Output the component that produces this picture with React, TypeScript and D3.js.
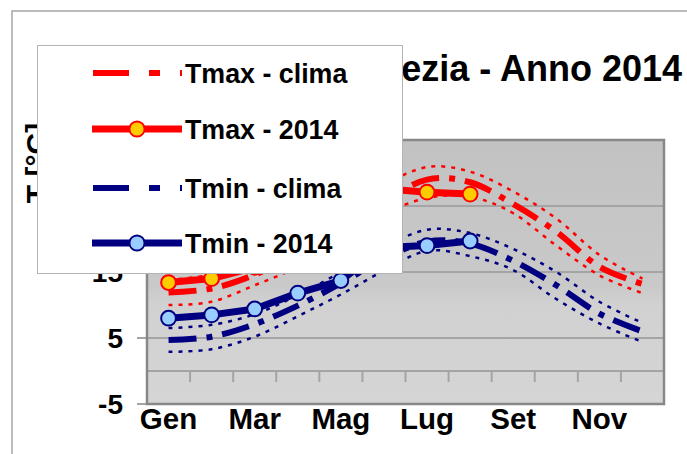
import * as d3 from "d3";

const months = ["Gen", "Feb", "Mar", "Apr", "Mag", "Giu", "Lug", "Ago", "Set", "Ott", "Nov", "Dic"];
const monthLabels = ["Gen", "Mar", "Mag", "Lug", "Set", "Nov"];
const yTicks = [-5, 5, 15, 25, 35];

const tmaxClima = [11.9, 12.5, 14.6, 17.8, 22.0, 25.8, 29.0, 28.6, 25.3, 21.1, 15.8, 13.2];
const tmaxClimaUp = [13.8, 14.6, 16.6, 20.0, 24.3, 28.2, 30.9, 30.2, 27.2, 23.1, 17.6, 14.0];
const tmaxClimaLow = [10.0, 10.5, 13.0, 15.8, 19.8, 23.8, 26.2, 26.4, 23.9, 19.0, 14.5, 11.8];
const tmax2014 = [13.4, 14.0, 15.7, 19.5, 22.5, 27.6, 27.1, 26.8];

const tminClima = [4.7, 5.2, 7.1, 9.9, 13.3, 17.0, 19.6, 19.3, 16.7, 13.0, 8.7, 6.0];
const tminClimaUp = [6.5, 7.0, 8.6, 11.5, 15.0, 18.8, 21.4, 20.9, 18.5, 15.0, 10.5, 7.3];
const tminClimaLow = [2.9, 3.3, 5.2, 8.3, 11.6, 15.2, 18.2, 17.4, 15.3, 10.9, 7.2, 4.4];
const tmin2014 = [8.0, 8.5, 9.4, 11.8, 13.7, 18.7, 19.0, 19.7];

const RED = "#ff0000";
const NAVY = "#000080";
const FONT = "'Liberation Sans', Arial, sans-serif";

export default function App() {
  const width = 687;
  const height = 454;
  const plot = { left: 147, right: 664, top: 140, bottom: 404 };

  const x = d3.scaleBand<string>().domain(months).range([plot.left, plot.right]).padding(0);
  const cx = (i: number) => (x(months[i]) ?? 0) + x.bandwidth() / 2;
  const y = d3.scaleLinear().domain([-5, 35]).range([plot.bottom, plot.top]);

  const smooth = d3
    .line<number>()
    .x((_, i) => cx(i))
    .y((d) => y(d))
    .curve(d3.curveCardinal.tension(0));
  const straight = d3
    .line<number>()
    .x((_, i) => cx(i))
    .y((d) => y(d));

  const bands = [
    { data: tmaxClimaUp, color: RED },
    { data: tmaxClimaLow, color: RED },
    { data: tminClimaUp, color: NAVY },
    { data: tminClimaLow, color: NAVY },
  ];

  const legendRows = [
    { label: "Tmax - clima", color: RED, dashed: true, fill: "" },
    { label: "Tmax - 2014", color: RED, dashed: false, fill: "#ffcc00" },
    { label: "Tmin - clima", color: NAVY, dashed: true, fill: "" },
    { label: "Tmin - 2014", color: NAVY, dashed: false, fill: "#99ccff" },
  ];
  const legendY = [73, 129, 188, 243];

  return (
    <svg
      width={width}
      height={height}
      style={{ position: "absolute", left: 0, top: 0, background: "#fff" }}
      fontFamily={FONT}
    >
      <defs>
        <linearGradient id="plotBg" x1="0" y1="0" x2="0" y2="1">
          <stop offset="0" stopColor="#c2c2c2" />
          <stop offset="0.55" stopColor="#c9c9c9" />
          <stop offset="0.62" stopColor="#d1d1d1" />
          <stop offset="1" stopColor="#d5d5d5" />
        </linearGradient>
        <clipPath id="plotClip">
          <rect x={plot.left} y={plot.top} width={plot.right - plot.left} height={plot.bottom - plot.top} />
        </clipPath>
      </defs>

      {/* outer chart frame */}
      <rect x={12} y={11} width={720} height={500} fill="#fff" stroke="#a6a6a6" strokeWidth={1.5} />

      {/* title (partly hidden behind the legend) */}
      <text x={682} y={81} textAnchor="end" fontSize={36} fontWeight="bold" fill="#000">
        La Spezia - Anno 2014
      </text>

      {/* y axis title */}
      <text
        transform={`translate(47,163) rotate(-90)`}
        textAnchor="middle"
        fontSize={30}
        fontWeight="bold"
        fill="#000"
      >
        T [°C]
      </text>

      {/* plot area */}
      <rect
        x={plot.left}
        y={plot.top}
        width={plot.right - plot.left}
        height={plot.bottom - plot.top}
        fill="url(#plotBg)"
      />
      {yTicks.slice(1, -1).map((t) => (
        <line key={t} x1={plot.left} x2={plot.right} y1={y(t)} y2={y(t)} stroke="#a4a4a4" strokeWidth={2} />
      ))}

      {/* category axis crossing at 0 */}
      <line x1={plot.left} x2={plot.right} y1={y(0)} y2={y(0)} stroke="#a4a4a4" strokeWidth={2} />
      {months.slice(1).map((m) => (
        <line
          key={m}
          x1={x(m) ?? 0}
          x2={x(m) ?? 0}
          y1={y(0)}
          y2={y(0) + 11}
          stroke="#a4a4a4"
          strokeWidth={2}
        />
      ))}

      {/* y ticks */}
      {yTicks.map((t) => (
        <g key={t}>
          <line x1={plot.left - 10} x2={plot.left} y1={y(t)} y2={y(t)} stroke="#a4a4a4" strokeWidth={2} />
          <text x={123} y={y(t)} dy="0.37em" textAnchor="end" fontSize={28} fontWeight="bold" fill="#000">
            {t}
          </text>
        </g>
      ))}

      {/* x labels */}
      {monthLabels.map((m) => (
        <text
          key={m}
          x={(x(m) ?? 0) + x.bandwidth() / 2}
          y={429}
          textAnchor="middle"
          fontSize={29.5}
          fontWeight="bold"
          fill="#000"
        >
          {m}
        </text>
      ))}

      <g clipPath="url(#plotClip)">
        {bands.map((b, i) => (
          <path
            key={i}
            d={smooth(b.data) ?? ""}
            fill="none"
            stroke={b.color}
            strokeWidth={2.5}
            strokeDasharray="4,6"
          />
        ))}
        <path
          d={smooth(tmaxClima) ?? ""}
          fill="none"
          stroke={RED}
          strokeWidth={6}
          strokeDasharray="28,10,6,10"
        />
        <path
          d={smooth(tminClima) ?? ""}
          fill="none"
          stroke={NAVY}
          strokeWidth={6}
          strokeDasharray="28,10,6,10"
        />
        <path d={straight(tmax2014) ?? ""} fill="none" stroke={RED} strokeWidth={7} strokeLinejoin="round" />
        {tmax2014.map((v, i) => (
          <circle key={i} cx={cx(i)} cy={y(v)} r={7.4} fill="#ffcc00" stroke={RED} strokeWidth={2} />
        ))}
        <path d={straight(tmin2014) ?? ""} fill="none" stroke={NAVY} strokeWidth={7} strokeLinejoin="round" />
        {tmin2014.map((v, i) => (
          <circle key={i} cx={cx(i)} cy={y(v)} r={7.4} fill="#99ccff" stroke={NAVY} strokeWidth={2} />
        ))}
      </g>

      {/* plot border */}
      <rect
        x={plot.left}
        y={plot.top}
        width={plot.right - plot.left}
        height={plot.bottom - plot.top}
        fill="none"
        stroke="#888"
        strokeWidth={2.5}
      />

      {/* legend */}
      <rect x={37.5} y={45.5} width={365} height={228} fill="#fff" stroke="#b4b4b4" strokeWidth={1} />
      {legendRows.map((r, i) => (
        <g key={r.label}>
          {r.dashed ? (
            <line
              x1={93}
              x2={182}
              y1={legendY[i]}
              y2={legendY[i]}
              stroke={r.color}
              strokeWidth={6}
              strokeDasharray="36,20,11,20"
            />
          ) : (
            <>
              <line x1={92} x2={182} y1={legendY[i]} y2={legendY[i]} stroke={r.color} strokeWidth={7} />
              <circle cx={137} cy={legendY[i]} r={7.6} fill={r.fill} stroke={r.color} strokeWidth={2} />
            </>
          )}
          <text x={185} y={legendY[i]} dy="0.36em" fontSize={26.8} fontWeight="bold" fill="#000">
            {r.label}
          </text>
        </g>
      ))}
    </svg>
  );
}
